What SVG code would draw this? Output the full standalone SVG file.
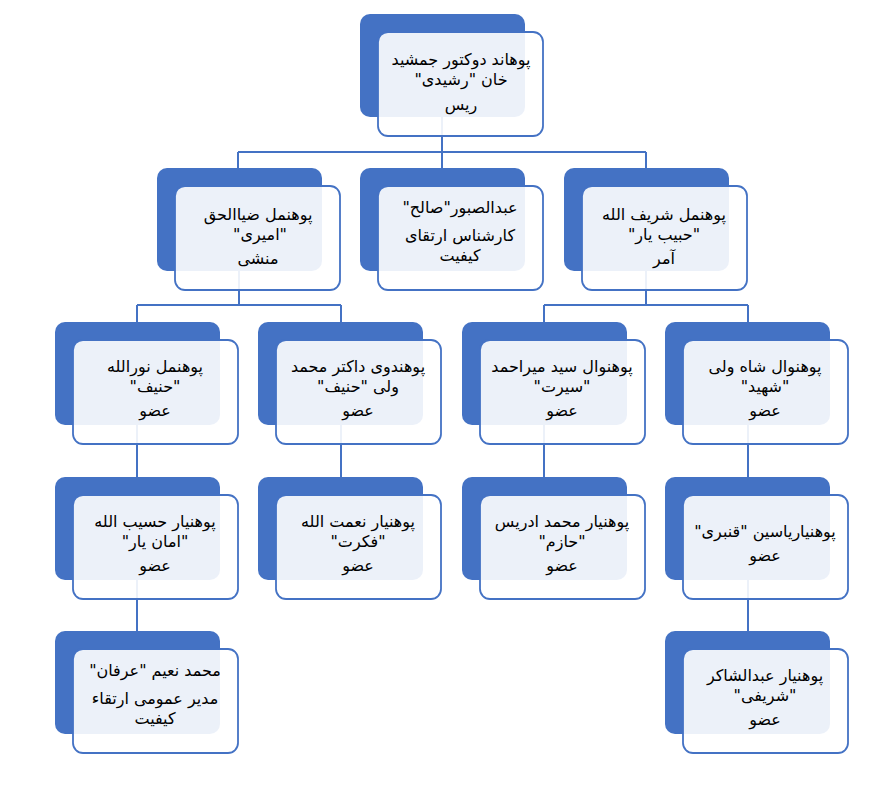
<svg xmlns="http://www.w3.org/2000/svg" width="893" height="793" viewBox="0 0 893 793">
<style>
.bk{fill:#4472C4}
.fr{fill:#FFFFFF;fill-opacity:0.9;stroke:#4472C4;stroke-width:1.8}
.cn{fill:none;stroke:#4472C4;stroke-width:2}
text{font-family:"DejaVu Sans","Liberation Sans",sans-serif;font-size:16px;fill:#000;text-anchor:middle;direction:rtl}
</style>
<defs><clipPath id="c13"><rect x="73" y="649" width="147" height="85"/></clipPath></defs>
<rect width="893" height="793" fill="#FFFFFF"/>
<g id="connectors">
<path class="cn" d="M442,117V152M238,152H646M238,152V168M442,152V168M646,152V168"/>
<path class="cn" d="M239,271V305M137,305H341M137,305V322M341,305V322"/>
<path class="cn" d="M646,271V305M544,305H748M544,305V322M748,305V322"/>
<path class="cn" d="M137,425V477M341,425V477M544,425V477M748,425V477"/>
<path class="cn" d="M137,580V631M748,580V631"/>
</g>
<g id="n1"><rect class="bk" x="360" y="14" width="165" height="103" rx="10"/><rect class="fr" x="378" y="32" width="165" height="104" rx="10"/>
<text x="461" y="65">پوهاند دوکتور جمشید</text><text x="461" y="85">خان  "رشیدی"</text><text x="461" y="110">ریس</text></g>
<g id="n2"><rect class="bk" x="157" y="168" width="165" height="103" rx="10"/><rect class="fr" x="175" y="186" width="165" height="104" rx="10"/>
<text x="258" y="220">پوهنمل ضیاالحق</text><text x="260" y="240">"امیری"</text><text x="258" y="264">منشی</text></g>
<g id="n3"><rect class="bk" x="360" y="168" width="165" height="103" rx="10"/><rect class="fr" x="378" y="186" width="165" height="104" rx="10"/>
<text x="460" y="213">عبدالصبور"صالح"</text><text x="460" y="241">کارشناس ارتقای</text><text x="460" y="261">کیفیت</text></g>
<g id="n4"><rect class="bk" x="564" y="168" width="165" height="103" rx="10"/><rect class="fr" x="582" y="186" width="165" height="104" rx="10"/>
<text x="664" y="220">پوهنمل شریف الله</text><text x="664" y="240">"حبیب یار"</text><text x="664" y="264">آمر</text></g>
<g id="n5"><rect class="bk" x="55" y="322" width="165" height="103" rx="10"/><rect class="fr" x="73" y="340" width="165" height="104" rx="10"/>
<text x="155" y="372">پوهنمل نورالله</text><text x="155" y="392">"حنیف"</text><text x="155" y="416">عضو</text></g>
<g id="n6"><rect class="bk" x="258" y="322" width="165" height="103" rx="10"/><rect class="fr" x="276" y="340" width="165" height="104" rx="10"/>
<text x="358" y="372">پوهندوی داکتر محمد</text><text x="358" y="392">ولی "حنیف"</text><text x="358" y="416">عضو</text></g>
<g id="n7"><rect class="bk" x="462" y="322" width="165" height="103" rx="10"/><rect class="fr" x="480" y="340" width="165" height="104" rx="10"/>
<text x="562" y="372">پوهنوال سید میراحمد</text><text x="562" y="392">"سیرت"</text><text x="562" y="416">عضو</text></g>
<g id="n8"><rect class="bk" x="665" y="322" width="165" height="103" rx="10"/><rect class="fr" x="683" y="340" width="165" height="104" rx="10"/>
<text x="765" y="372">پوهنوال شاه ولی</text><text x="765" y="392">"شهید"</text><text x="765" y="416">عضو</text></g>
<g id="n9"><rect class="bk" x="55" y="477" width="165" height="103" rx="10"/><rect class="fr" x="73" y="495" width="165" height="104" rx="10"/>
<text x="155" y="527">پوهنیار حسیب الله</text><text x="155" y="547">"امان یار"</text><text x="155" y="571">عضو</text></g>
<g id="n10"><rect class="bk" x="258" y="477" width="165" height="103" rx="10"/><rect class="fr" x="276" y="495" width="165" height="104" rx="10"/>
<text x="358" y="527">پوهنیار نعمت الله</text><text x="358" y="547">"فکرت"</text><text x="358" y="571">عضو</text></g>
<g id="n11"><rect class="bk" x="462" y="477" width="165" height="103" rx="10"/><rect class="fr" x="480" y="495" width="165" height="104" rx="10"/>
<text x="562" y="527">پوهنیار محمد ادریس</text><text x="562" y="547">"حازم"</text><text x="562" y="571">عضو</text></g>
<g id="n12"><rect class="bk" x="665" y="477" width="165" height="103" rx="10"/><rect class="fr" x="683" y="495" width="165" height="104" rx="10"/>
<text x="765" y="537">پوهنیاریاسین "قنبری"</text><text x="765" y="561">عضو</text></g>
<g id="n13"><rect class="bk" x="55" y="631" width="165" height="103" rx="10"/><rect class="fr" x="73" y="649" width="165" height="104" rx="10"/>
<g clip-path="url(#c13)"><text x="155" y="676">محمد نعیم "عرفان"</text><text x="155" y="704">مدیر عمومی ارتقاء</text><text x="155" y="724">کیفیت</text></g></g>
<g id="n14"><rect class="bk" x="665" y="631" width="165" height="103" rx="10"/><rect class="fr" x="683" y="649" width="165" height="104" rx="10"/>
<text x="765" y="681">پوهنیار عبدالشاکر</text><text x="765" y="701">"شریفی"</text><text x="765" y="725">عضو</text></g>
</svg>
